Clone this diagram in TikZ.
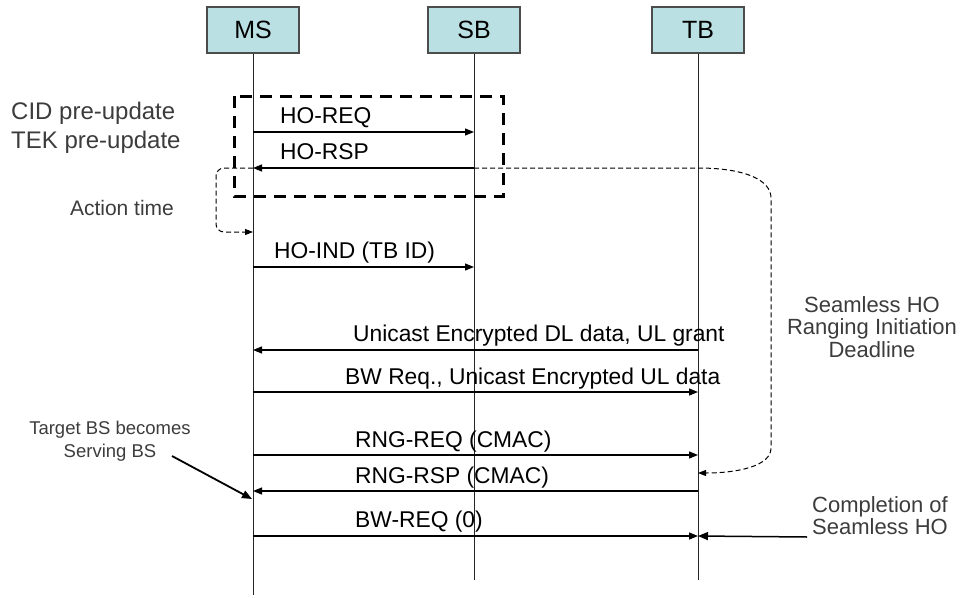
\documentclass[tikz,border=0pt]{standalone}
\usepackage{fontspec}
\setmainfont{Liberation Sans}
\usetikzlibrary{arrows.meta}
\definecolor{boxfill}{RGB}{187,224,227}
\definecolor{notegray}{RGB}{60,60,60}

\begin{document}
\begin{tikzpicture}[x=1pt,y=-1pt,
    entity/.style={draw=black!70,line width=1.2pt,fill=boxfill,minimum width=92pt,minimum height=46pt,inner sep=0,font=\fontsize{25}{30}\selectfont},
    life/.style={draw=black!85,line width=1pt},
    msg/.style={line width=1.2pt,-{Triangle[length=9pt,width=7pt]}},
    lbl/.style={inner sep=0,anchor=base west,font=\fontsize{22.8}{27}\selectfont},
    note/.style={inner sep=0,align=center,text=notegray},
    tick/.style={line width=1pt,dash pattern=on 5pt off 3pt},
    grp/.style={line width=3pt,dash pattern=on 12pt off 8pt},
    pointer/.style={line width=1.8pt,-{Triangle[length=10pt,width=8pt]}}]
    \useasboundingbox (0,0) rectangle (961,597);

    \node[entity] (ms) at (253,30) {MS};
    \node[entity] (sb) at (474,30) {SB};
    \node[entity] (tb) at (698,30) {TB};
    \coordinate (ms-end) at (253,595);
    \coordinate (sb-end) at (474,580);
    \coordinate (tb-end) at (698,580);
    \foreach \e in {ms,sb,tb} \draw[life] (\e) -- (\e-end);

    \foreach \m/\y in {req/132,rsp/168,act/232,ind/267,dl/350,ul/392,rreq/455,ddl/473,rrsp/491,bw/536} {
        \coordinate (ms-\m) at (253,\y);
        \coordinate (sb-\m) at (474,\y);
        \coordinate (tb-\m) at (698,\y);
    }

    \draw[grp] (234,96) rectangle (503,196);

    \draw[msg] (ms-req) -- (sb-req);
    \node[lbl] (l-req) at ([shift={(27,-9)}]ms-req) {HO-REQ};
    \draw[msg] (sb-rsp) -- (ms-rsp);
    \node[lbl] (l-rsp) at ([shift={(27,-9)}]ms-rsp) {HO-RSP};
    \draw[msg] (ms-ind) -- (sb-ind);
    \node[lbl] (l-ind) at ([shift={(21,-9)}]ms-ind) {HO-IND (TB ID)};

    \draw[msg] (tb-dl) -- (ms-dl);
    \node[lbl] (l-dl) at ([shift={(100,-9)}]ms-dl) {Unicast Encrypted DL data, UL grant};
    \draw[msg] (ms-ul) -- (tb-ul);
    \node[lbl] (l-ul) at ([shift={(92,-8)}]ms-ul) {BW Req., Unicast Encrypted UL data};
    \draw[msg] (ms-rreq) -- (tb-rreq);
    \node[lbl] (l-rreq) at ([shift={(102,-8)}]ms-rreq) {RNG-REQ (CMAC)};
    \draw[msg] (tb-rrsp) -- (ms-rrsp);
    \node[lbl] (l-rrsp) at ([shift={(102,-8)}]ms-rrsp) {RNG-RSP (CMAC)};
    \draw[msg] (ms-bw) -- (tb-bw);
    \node[lbl] (l-bw) at ([shift={(102,-9)}]ms-bw) {BW-REQ (0)};

    \draw[tick,-{Triangle[length=8pt,width=6pt]},rounded corners=8pt] (ms-rsp) -- ++(-37,0) |- (ms-act);
    \coordinate (ddl-top) at (771,198);
    \coordinate (ddl-bot) at (771,448);
    \draw[tick,-{Triangle[length=8pt,width=6pt]}] (sb-rsp) -- (tb-rsp) .. controls +(47,0) and +(0,-18) .. (ddl-top) -- (ddl-bot) .. controls +(0,18) and +(40,0) .. (tb-ddl);

    \node[note,font=\fontsize{24}{29}\selectfont,align=left,anchor=west] (upd) at (11,128) {CID pre-update\\TEK pre-update};
    \node[note,font=\fontsize{21}{25}\selectfont] (act) at (122,208) {Action time};
    \node[note,font=\fontsize{18.5}{22.5}\selectfont] (tgt) at (110,441) {Target BS becomes\\Serving BS};
    \node[note,font=\fontsize{22}{22.5}\selectfont] (ddl) at (872,327) {Seamless HO\\Ranging Initiation\\Deadline};
    \node[note,font=\fontsize{22}{22}\selectfont] (cmp) at (880,516) {Completion of\\Seamless HO};

    \coordinate (tgt-from) at (172,456);
    \coordinate (tgt-to) at (252,499);
    \draw[pointer] (tgt-from) -- (tgt-to);
    \coordinate (cmp-from) at (807,537);
    \draw[pointer,line width=1.5pt] (cmp-from) -- (tb-bw);
\end{tikzpicture}
\end{document}
